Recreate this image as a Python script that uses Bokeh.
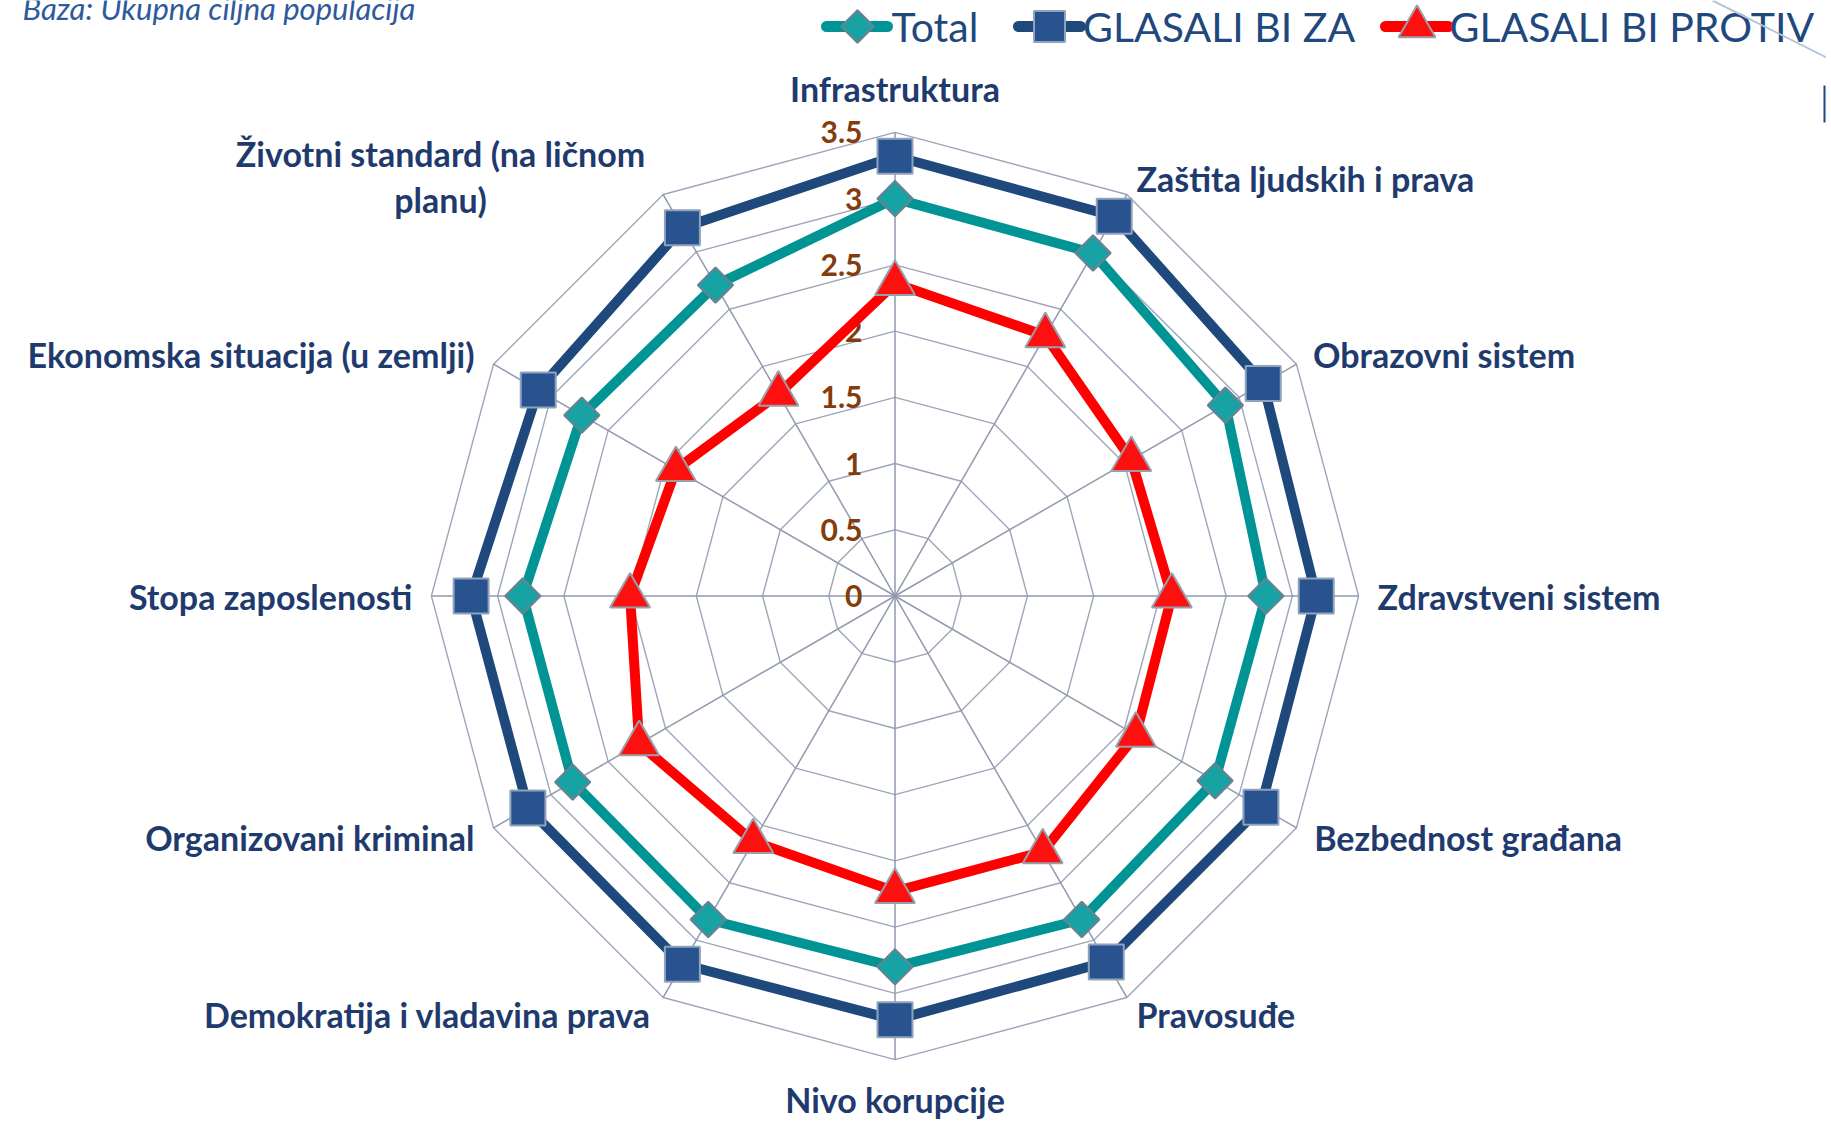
import math
from bokeh.plotting import figure
from bokeh.models import Range1d
from bokeh.core.properties import value
from bokeh.embed import file_html
from bokeh.resources import INLINE

# ---------------- data ----------------
categories = [
    "Infrastruktura",
    "Zaštita ljudskih i prava",
    "Obrazovni sistem",
    "Zdravstveni sistem",
    "Bezbednost građana",
    "Pravosuđe",
    "Nivo korupcije",
    "Demokratija i vladavina prava",
    "Organizovani kriminal",
    "Stopa zaposlenosti",
    "Ekonomska situacija (u zemlji)",
    "Životni standard (na ličnom planu)",
]
total = [3.00, 2.99, 2.88, 2.80, 2.79, 2.82, 2.80, 2.82, 2.81, 2.81, 2.73, 2.71]
glasali_za = [3.32, 3.31, 3.21, 3.18, 3.19, 3.19, 3.20, 3.21, 3.20, 3.20, 3.11, 3.21]
glasali_protiv = [2.36, 2.27, 2.06, 2.09, 2.10, 2.23, 2.23, 2.14, 2.23, 2.00, 1.91, 1.76]
series_names = ["Total", "GLASALI BI ZA", "GLASALI BI PROTIV"]
tick_values = [0, 0.5, 1, 1.5, 2, 2.5, 3, 3.5]
tick_labels = ["0", "0.5", "1", "1.5", "2", "2.5", "3", "3.5"]
r_max = 3.5
subtitle = "Baza: Ukupna ciljna populacija"

# ---------------- layout ----------------
W, H = 1826, 1121
CX, CY = 894.5, 595.5      # centre of radar in figure pixels
K = 132.46                 # pixels per unit

def X(px):
    return (px - CX) / K

def Y(py):
    return (CY - py) / K

p = figure(width=W, height=H, output_backend="svg", toolbar_location=None,
           x_range=Range1d(X(0), X(W)), y_range=Range1d(Y(H), Y(0)),
           min_border=0, outline_line_color=None, background_fill_color="white")
p.axis.visible = False
p.grid.visible = False

n = len(categories)
angles = [2 * math.pi * i / n for i in range(n)]

def polar(vals):
    xs = [v * math.sin(a) for v, a in zip(vals, angles)]
    ys = [v * math.cos(a) for v, a in zip(vals, angles)]
    return xs, ys

GRID = "#9EA6BA"
# rings
for t in tick_values[1:]:
    xs, ys = polar([t] * n)
    p.line(xs + xs[:1], ys + ys[:1], line_color=GRID, line_width=1.4)
# spokes
for a in angles:
    p.line([0, r_max * math.sin(a)], [0, r_max * math.cos(a)], line_color="#9199AE", line_width=1.5)

# tick labels
p.text([X(862)] * len(tick_values), tick_values, text=tick_labels,
       text_font=value("Lato"), text_font_style="bold", text_font_size="30px",
       text_color="#843C0C", text_align="right", text_baseline="middle")

# series
styles = [
    dict(color="#009494", fill="#17A2A4", outline="#6E8090", marker="square", size=25, angle=math.pi / 4),
    dict(color="#1F497D", fill="#28538F", outline="#8FA3BC", marker="square", size=35, angle=0),
    dict(color="#FF0000", fill="#FF1010", outline="#98A0AA", marker="triangle", size=40, angle=0),
]
all_vals = [total, glasali_za, glasali_protiv]
for vals, st in zip(all_vals, styles):
    xs, ys = polar(vals)
    p.line(xs + xs[:1], ys + ys[:1], line_color=st["color"], line_width=10, line_join="round")
for vals, st in zip(all_vals, styles):
    xs, ys = polar(vals)
    p.scatter(xs, ys, marker=st["marker"], size=st["size"], angle=st["angle"],
              fill_color=st["fill"], line_color=st["outline"], line_width=2)

# category labels (figure pixel anchors)
LAB = "#1F3B6E"
label_pos = [
    (894.5, 87.6, "center"),
    (1136, 177.5, "left"),
    (1312.5, 354, "left"),
    (1377, 595.5, "left"),
    (1313.7, 837, "left"),
    (1136, 1013.6, "left"),
    (894.5, 1099, "center"),
    (650.4, 1013.6, "right"),
    (474, 837, "right"),
    (412, 595.5, "right"),
    (474, 354, "right"),
    (440, 176, "center"),
]
for cat, (lx, ly, al) in zip(categories, label_pos):
    txt = cat
    if cat.startswith("Životni"):
        txt = "Životni standard (na ličnom\nplanu)"
    p.text([X(lx)], [Y(ly)], text=[txt], text_font=value("Lato"), text_font_style="bold",
           text_font_size="34px", text_color=LAB, text_align=al, text_baseline="middle",
           text_line_height=1.1)

# legend (manual)
LY = 26
leg = [(826, 887, 857, 891), (1018, 1080, 1049, 1082.5), (1385, 1448, 1416.5, 1449)]
leg_sizes = [23, 31, 37]
for name, st, (x0, x1, xm, xt), ms in zip(series_names, styles, leg, leg_sizes):
    p.line([X(x0), X(x1)], [Y(LY), Y(LY)], line_color=st["color"], line_width=11, line_cap="round")
    p.scatter([X(xm)], [Y(LY)], marker=st["marker"], size=ms, angle=st["angle"],
              fill_color=st["fill"], line_color=st["outline"], line_width=2)
    p.text([X(xt)], [Y(LY)], text=[name], text_font=value("Lato"), text_font_size="41px",
           text_color="#1F497D", text_align="left", text_baseline="middle")

# subtitle (cut off at the top like in the reference)
p.text([X(22)], [Y(7.5)], text=[subtitle], text_font=value("Lato"), text_font_style="italic",
       text_font_size="31px", text_color="#2E5A9A", text_align="left", text_baseline="alphabetic")

# slide decorations in the top-right corner
p.line([X(1712), X(1828)], [Y(0), Y(58)], line_color="#B4C3D8", line_width=2)
p.line([X(1824), X(1824)], [Y(85), Y(122)], line_color="#1F497D", line_width=2)

open("out.html", "w").write(file_html(p, INLINE))
